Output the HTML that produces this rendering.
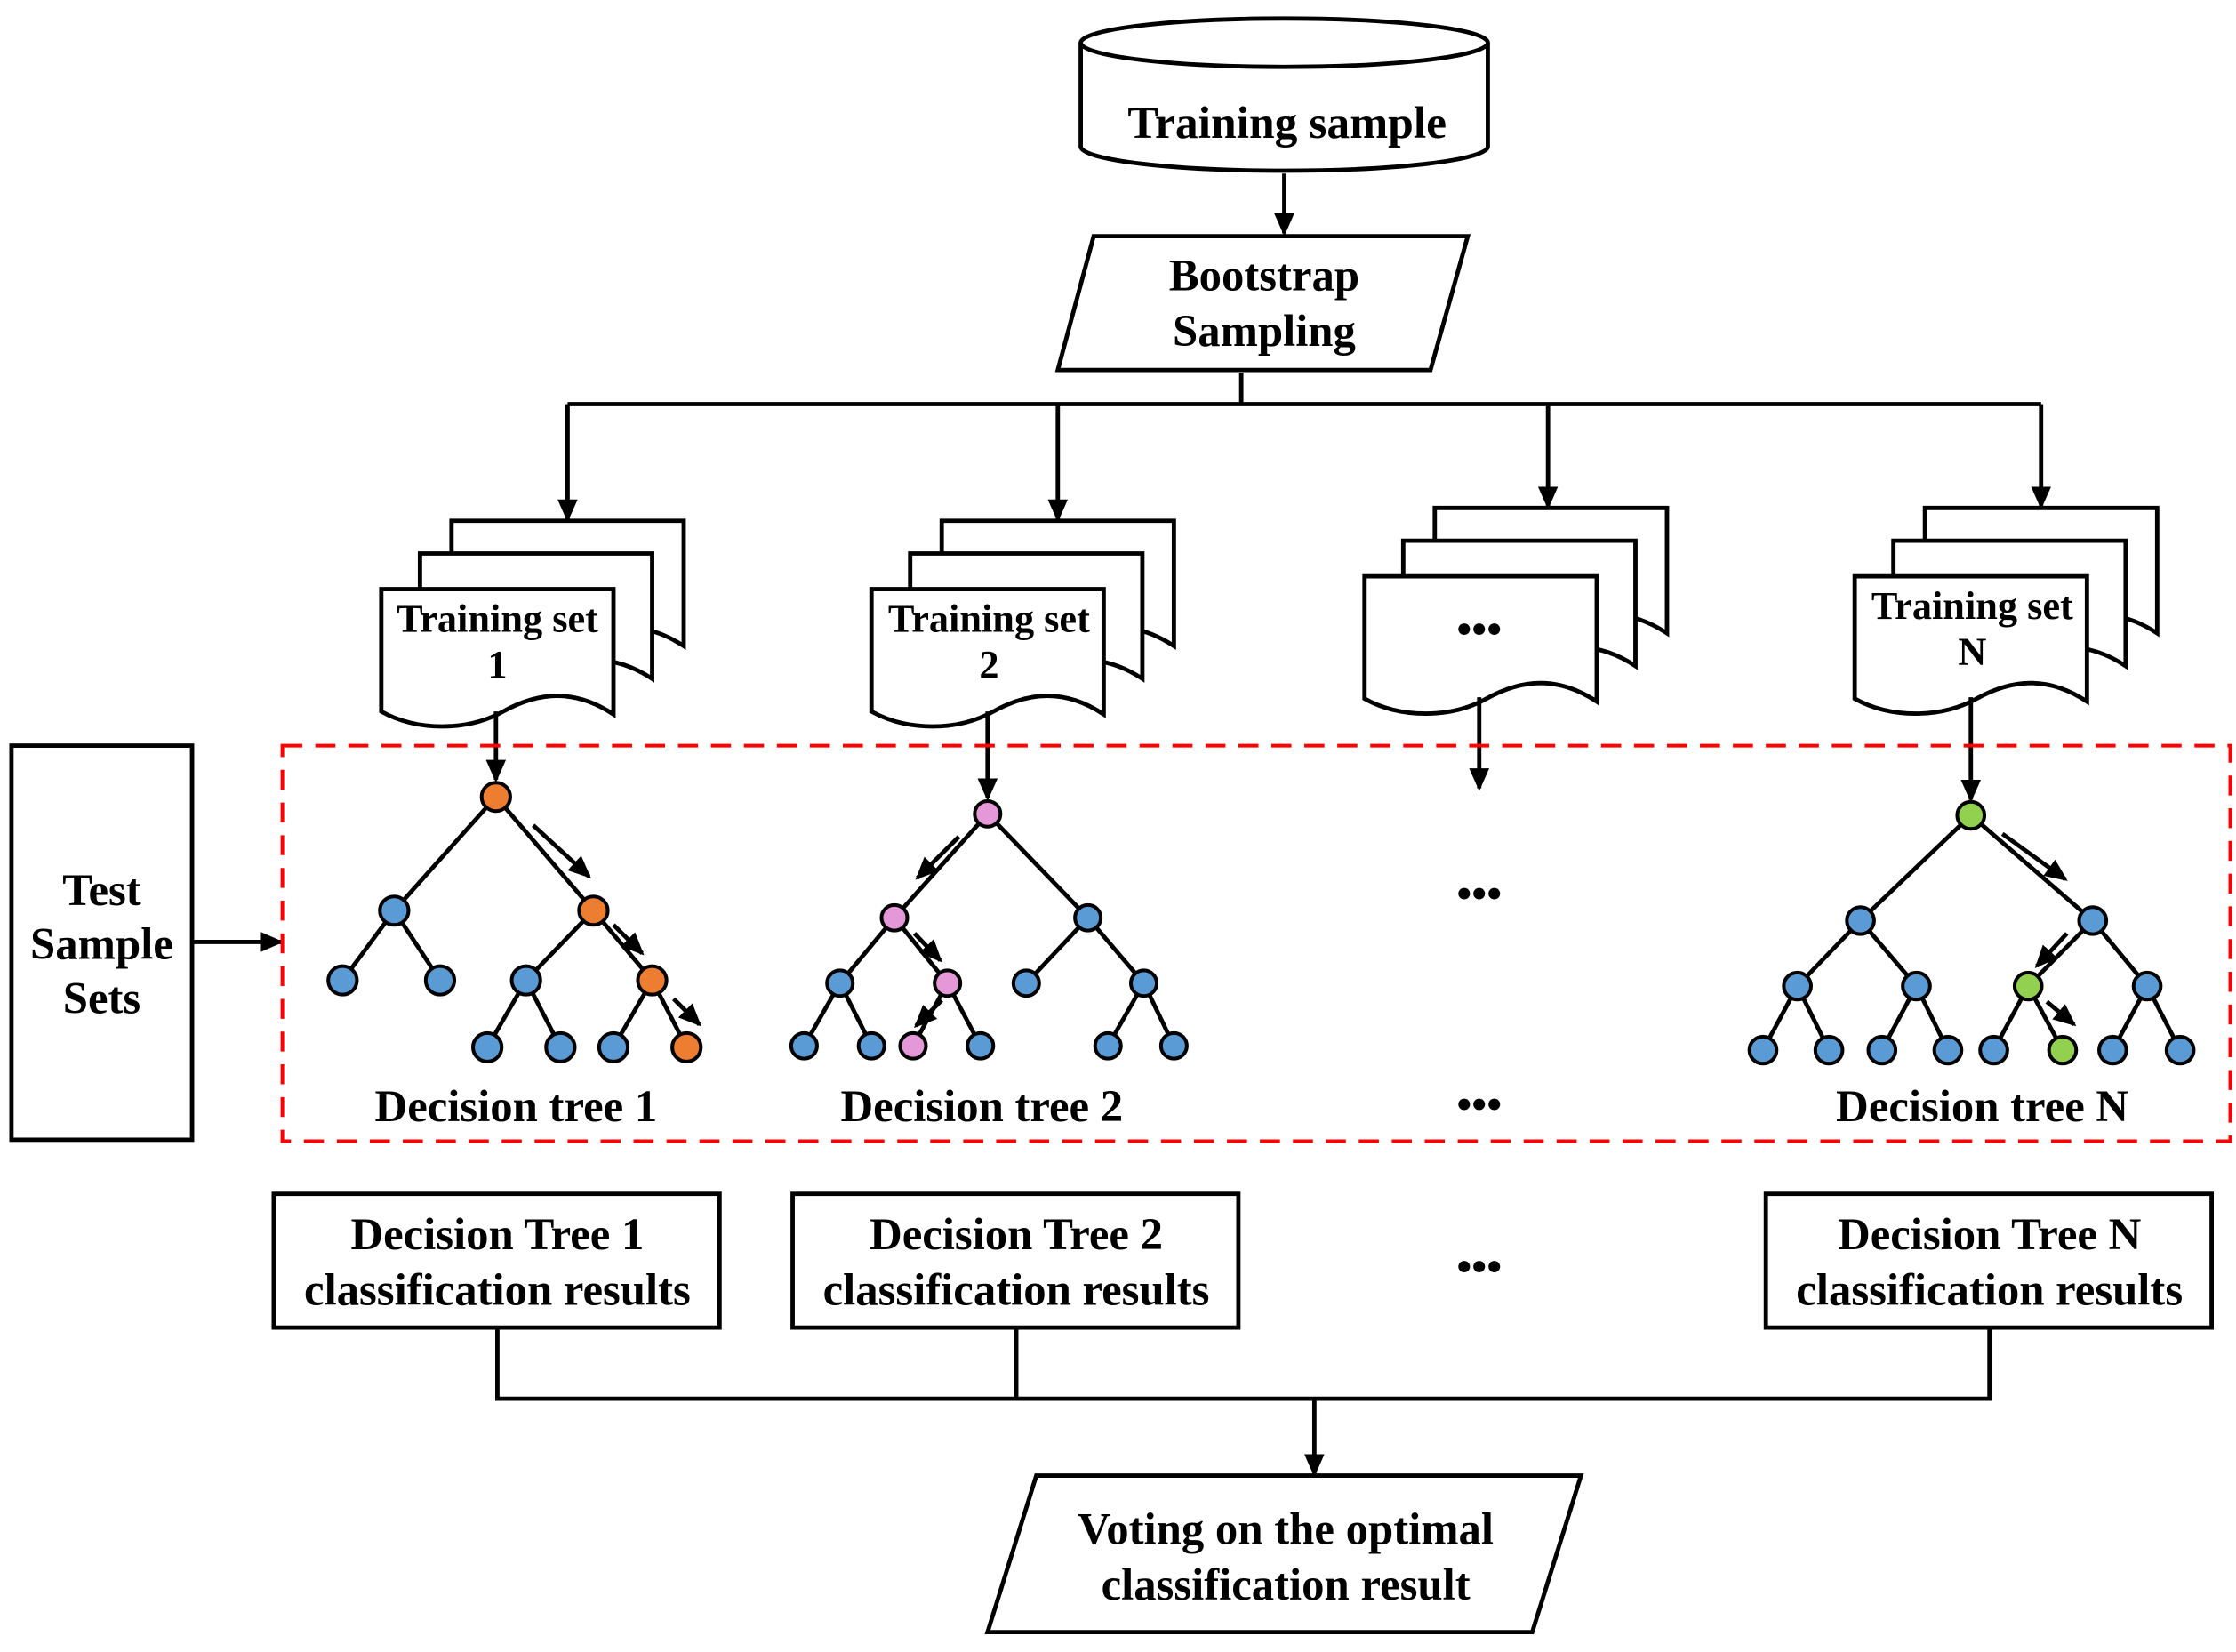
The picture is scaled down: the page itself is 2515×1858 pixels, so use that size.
<!DOCTYPE html>
<html><head><meta charset="utf-8"><style>
html,body{margin:0;padding:0;background:#fff;}
svg{display:block;}
text{font-family:"Liberation Serif",serif;font-weight:bold;fill:#000;}
</style></head><body>
<svg width="2515" height="1858" viewBox="0 0 1560 1161" preserveAspectRatio="none" xmlns="http://www.w3.org/2000/svg">
<defs>
<marker id="ah2" markerWidth="16" markerHeight="14" refX="14" refY="7" orient="auto" markerUnits="userSpaceOnUse"><path d="M0,0 L16,7 L0,14 Z" fill="#000"/></marker>
<path id="doc" d="M0,0 H162 V88 C135,70 110,72 85,86 C60,100 25,100 0,86 Z" fill="#fff" stroke="#000" stroke-width="3"/>
<g id="stack"><use href="#doc" x="49" y="-48"/><use href="#doc" x="27" y="-25"/><use href="#doc" x="0" y="0"/></g>
</defs>
<g stroke="#000" stroke-width="3" fill="none">
<path d="M754,30 V103 A142,17 0 0 0 1038,103 V30" fill="#fff"/>
<ellipse cx="896" cy="30" rx="142" ry="17" fill="#fff"/>
<line x1="896" y1="122" x2="896" y2="164" marker-end="url(#ah2)"/>
<polygon points="763,166 1024,166 998,260 738,260" fill="#fff"/>
<polyline points="866,262 866,284"/>
<line x1="396" y1="284" x2="1424" y2="284"/>
<line x1="396" y1="284" x2="396" y2="365" marker-end="url(#ah2)"/>
<line x1="738" y1="284" x2="738" y2="365" marker-end="url(#ah2)"/>
<line x1="1080" y1="284" x2="1080" y2="356" marker-end="url(#ah2)"/>
<line x1="1424" y1="284" x2="1424" y2="356" marker-end="url(#ah2)"/>
</g>
<use href="#stack" x="266" y="414"/>
<use href="#stack" x="608" y="414"/>
<use href="#stack" x="952" y="405"/>
<use href="#stack" x="1294" y="405"/>
<g stroke="#000" stroke-width="3" fill="none">
<line x1="346" y1="500" x2="346" y2="548" marker-end="url(#ah2)"/>
<line x1="689" y1="500" x2="689" y2="561" marker-end="url(#ah2)"/>
<line x1="1032" y1="490" x2="1032" y2="554" marker-end="url(#ah2)"/>
<line x1="1375" y1="490" x2="1375" y2="562" marker-end="url(#ah2)"/>
<rect x="8" y="524" width="126" height="277" fill="#fff"/>
<line x1="134" y1="662" x2="196" y2="662" marker-end="url(#ah2)"/>
<rect x="191" y="839" width="311" height="94" fill="#fff"/>
<rect x="553" y="839" width="311" height="94" fill="#fff"/>
<rect x="1232" y="839" width="311" height="94" fill="#fff"/>
<polyline points="347,933 347,983 1388,983 1388,933"/>
<line x1="709" y1="933" x2="709" y2="983"/>
<line x1="917" y1="983" x2="917" y2="1036" marker-end="url(#ah2)"/>
<polygon points="723,1037 1103,1037 1069,1147 689,1147" fill="#fff"/>
</g>
<rect x="197" y="524" width="1359" height="278" fill="none" stroke="#f00" stroke-width="2.5" stroke-dasharray="14,9"/>
<g stroke="#000" stroke-width="3">
<path d="M346,560 L275,640 M346,560 L414,640 M275,640 L239,689 M275,640 L307,689 M414,640 L367,689 M414,640 L455,689 M367,689 L340,736 M367,689 L391,736 M455,689 L428,736 M455,689 L479,736"/>
<path d="M689,572 L624,645 M689,572 L759,645 M624,645 L586,691 M624,645 L661,691 M759,645 L716,691 M759,645 L798,691 M586,691 L561,735 M586,691 L608,735 M661,691 L637,735 M661,691 L684,735 M798,691 L773,735 M798,691 L819,735"/>
<path d="M1375,573 L1298,647 M1375,573 L1460,647 M1298,647 L1254,693 M1298,647 L1337,693 M1460,647 L1415,693 M1460,647 L1498,693 M1254,693 L1230,738 M1254,693 L1276,738 M1337,693 L1313,738 M1337,693 L1359,738 M1415,693 L1391,738 M1415,693 L1439,738 M1498,693 L1474,738 M1498,693 L1521,738"/>
<line x1="372" y1="580" x2="411" y2="616" marker-end="url(#ah2)"/>
<line x1="428" y1="650" x2="448" y2="670" marker-end="url(#ah2)"/>
<line x1="470" y1="702" x2="488" y2="720" marker-end="url(#ah2)"/>
<line x1="669" y1="588" x2="640" y2="617" marker-end="url(#ah2)"/>
<line x1="638" y1="656" x2="656" y2="675" marker-end="url(#ah2)"/>
<line x1="657" y1="703" x2="639" y2="721" marker-end="url(#ah2)"/>
<line x1="1397" y1="586" x2="1441" y2="618" marker-end="url(#ah2)"/>
<line x1="1442" y1="656" x2="1421" y2="679" marker-end="url(#ah2)"/>
<line x1="1428" y1="704" x2="1447" y2="720" marker-end="url(#ah2)"/>
</g>
<g stroke="#000" stroke-width="2.5">
<g fill="#ED7D31"><circle cx="346" cy="560" r="10"/><circle cx="414" cy="640" r="10"/><circle cx="455" cy="689" r="10"/><circle cx="479" cy="736" r="10"/></g>
<g fill="#5B9BD5"><circle cx="275" cy="640" r="10"/><circle cx="239" cy="689" r="10"/><circle cx="307" cy="689" r="10"/><circle cx="367" cy="689" r="10"/><circle cx="340" cy="736" r="10"/><circle cx="391" cy="736" r="10"/><circle cx="428" cy="736" r="10"/></g>
<g fill="#E598D8"><circle cx="689" cy="572" r="9"/><circle cx="624" cy="645" r="9"/><circle cx="661" cy="691" r="9"/><circle cx="637" cy="735" r="9"/></g>
<g fill="#5B9BD5"><circle cx="759" cy="645" r="9"/><circle cx="586" cy="691" r="9"/><circle cx="716" cy="691" r="9"/><circle cx="798" cy="691" r="9"/><circle cx="561" cy="735" r="9"/><circle cx="608" cy="735" r="9"/><circle cx="684" cy="735" r="9"/><circle cx="773" cy="735" r="9"/><circle cx="819" cy="735" r="9"/></g>
<g fill="#92D050"><circle cx="1375" cy="573" r="9.5"/><circle cx="1415" cy="693" r="9.5"/><circle cx="1439" cy="738" r="9.5"/></g>
<g fill="#5B9BD5"><circle cx="1298" cy="647" r="9.5"/><circle cx="1460" cy="647" r="9.5"/><circle cx="1254" cy="693" r="9.5"/><circle cx="1337" cy="693" r="9.5"/><circle cx="1498" cy="693" r="9.5"/><circle cx="1230" cy="738" r="9.5"/><circle cx="1276" cy="738" r="9.5"/><circle cx="1313" cy="738" r="9.5"/><circle cx="1359" cy="738" r="9.5"/><circle cx="1391" cy="738" r="9.5"/><circle cx="1474" cy="738" r="9.5"/><circle cx="1521" cy="738" r="9.5"/></g>
</g>
<g font-size="31.5" text-anchor="middle">
<text x="898" y="97" font-size="32">Training sample</text>
<text x="882" y="204">Bootstrap</text>
<text x="882" y="243">Sampling</text>
<text x="347" y="444" font-size="27.5">Training set</text>
<text x="347" y="476" font-size="27.5">1</text>
<text x="690" y="444" font-size="27.5">Training set</text>
<text x="690" y="476" font-size="27.5">2</text>
<text x="1376" y="435" font-size="27.5">Training set</text>
<text x="1376" y="467" font-size="27.5">N</text>
<text x="1032" y="452" font-size="30">•••</text>
<text x="1032" y="638" font-size="30">•••</text>
<text x="1032" y="786" font-size="30">•••</text>
<text x="1032" y="900" font-size="30">•••</text>
<text x="71" y="636">Test</text>
<text x="71" y="674">Sample</text>
<text x="71" y="712">Sets</text>
<text x="360" y="788">Decision tree 1</text>
<text x="685" y="788">Decision tree 2</text>
<text x="1383" y="788">Decision tree N</text>
<text x="347" y="878">Decision Tree 1</text>
<text x="347" y="917">classification results</text>
<text x="709" y="878">Decision Tree 2</text>
<text x="709" y="917">classification results</text>
<text x="1388" y="878">Decision Tree N</text>
<text x="1388" y="917">classification results</text>
<text x="897" y="1085">Voting on the optimal</text>
<text x="897" y="1124">classification result</text>
</g>
</svg>
</body></html>
